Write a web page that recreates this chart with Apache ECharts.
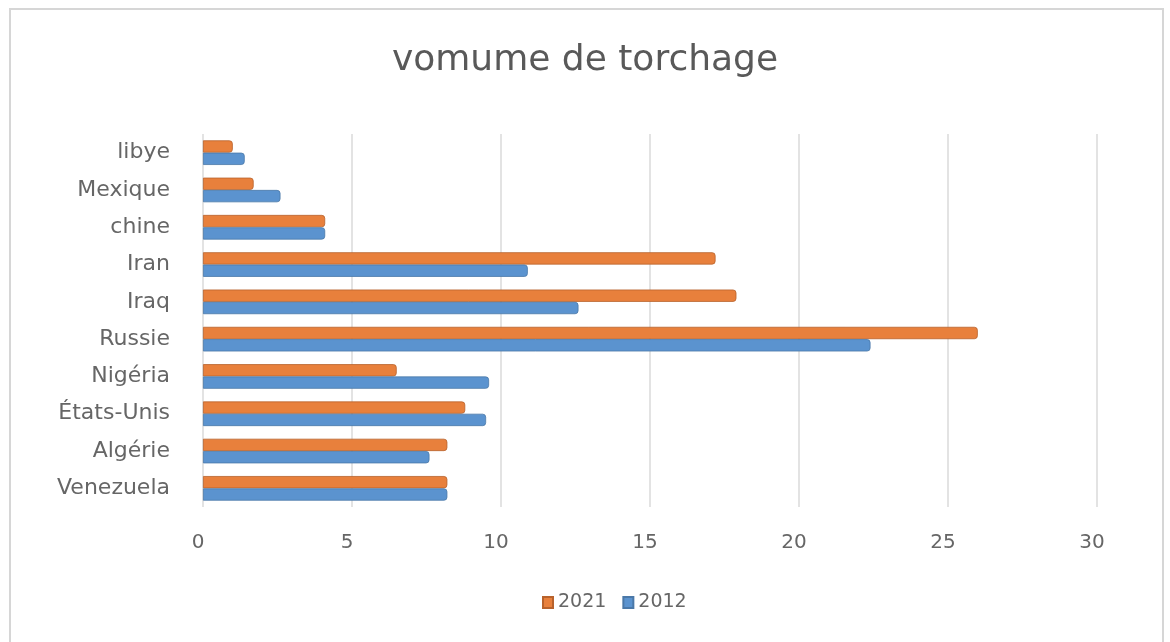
<!DOCTYPE html>
<html>
<head>
<meta charset="utf-8">
<script src="https://cdn.jsdelivr.net/npm/echarts@6/dist/echarts.min.js"></script>
<style>
  html, body { margin: 0; padding: 0; background: #fff; }
  #chart { width: 1170px; height: 642px; }
</style>
</head>
<body>
<div id="chart"></div>
<script>
// Countries, listed bottom to top as they appear on the category axis
const countries = ['Venezuela', 'Algérie', 'États-Unis', 'Nigéria', 'Russie', 'Iraq', 'Iran', 'chine', 'Mexique', 'libye'];
// Flaring volume per country
const values2021 = [8.2, 8.2, 8.8, 6.5, 26.0, 17.9, 17.2, 4.1, 1.7, 1.0];
const values2012 = [8.2, 7.6, 9.5, 9.6, 22.4, 12.6, 10.9, 4.1, 2.6, 1.4];
const seriesNames = ['2021', '2012'];
const xTicks = { min: 0, max: 30, step: 5 };

const FONT = 'DejaVu Sans';
const TEXT = '#666666';

const chart = echarts.init(document.getElementById('chart'), null, { renderer: 'canvas' });

chart.setOption({
  backgroundColor: '#ffffff',
  animation: false,
  title: {
    text: 'vomume de torchage',
    left: 'center',
    top: 38,
    textStyle: { fontFamily: FONT, fontSize: 36, fontWeight: 'normal', color: '#595959' }
  },
  legend: {
    data: seriesNames,
    bottom: 25,
    left: 537,
    itemWidth: 10,
    itemHeight: 11,
    itemGap: 16,
    icon: 'rect',
    textStyle: { fontFamily: FONT, fontSize: 19, color: TEXT }
  },
  grid: { left: 203, right: 73, top: 134, bottom: 135, containLabel: false },
  xAxis: {
    type: 'value',
    min: xTicks.min,
    max: xTicks.max,
    interval: xTicks.step,
    axisLine: { show: false },
    axisTick: { show: false },
    splitLine: { show: true, lineStyle: { color: '#dadada', width: 1.5 } },
    axisLabel: { margin: 26, fontFamily: FONT, fontSize: 20, color: TEXT, padding: [0, 10, 0, 0] }
  },
  yAxis: {
    type: 'category',
    data: countries,
    axisLine: { show: false },
    axisTick: { show: false },
    axisLabel: { margin: 33, fontFamily: FONT, fontSize: 22, color: TEXT }
  },
  series: [
    {
      name: '2021',
      type: 'bar',
      data: values2021,
      barGap: '0%',
      barCategoryGap: '34%',
      itemStyle: { color: '#e8803c', borderColor: '#b8622c', borderWidth: 0.8, borderRadius: [0, 3, 3, 0] }
    },
    {
      name: '2012',
      type: 'bar',
      data: values2012,
      barGap: '0%',
      barCategoryGap: '34%',
      itemStyle: { color: '#5b93cf', borderColor: '#4a78a8', borderWidth: 0.8, borderRadius: [0, 3, 3, 0] }
    }
  ],
  graphic: [{
    type: 'rect',
    silent: true,
    shape: { x: 10, y: 9, width: 1153, height: 700 },
    style: { fill: 'none', stroke: '#d6d6d6', lineWidth: 2 }
  }]
});
</script>
</body>
</html>
